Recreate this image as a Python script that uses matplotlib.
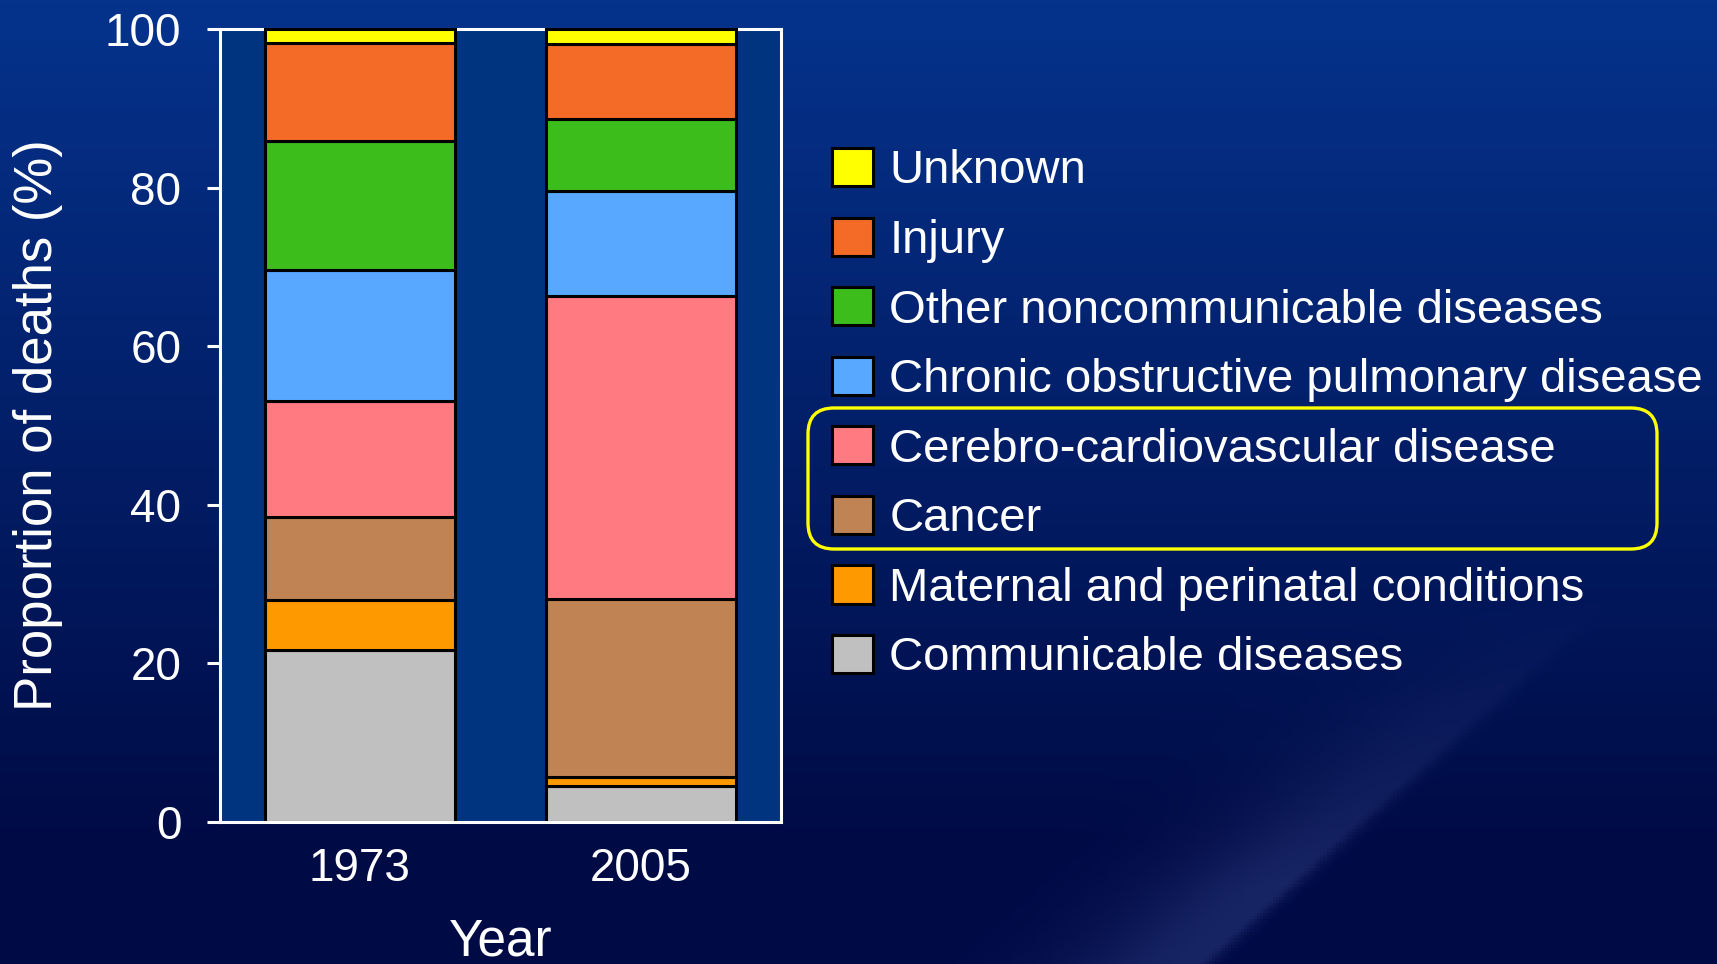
import numpy as np
import matplotlib
matplotlib.use("Agg")
import matplotlib.pyplot as plt
from matplotlib.patches import FancyBboxPatch
from matplotlib.transforms import IdentityTransform

# --- DATA ---
years = ["1973", "2005"]
causes = [
    "Communicable diseases",
    "Maternal and perinatal conditions",
    "Cancer",
    "Cerebro-cardiovascular disease",
    "Chronic obstructive pulmonary disease",
    "Other noncommunicable diseases",
    "Injury",
    "Unknown",
]
share_1973 = [21.7, 6.3, 10.4, 14.7, 16.5, 16.3, 12.3, 1.8]
share_2005 = [4.6, 1.1, 22.4, 38.2, 13.3, 9.0, 9.5, 1.9]
colors = ["#c0c0c0", "#ff9900", "#c08354", "#ff7b81",
          "#58a8ff", "#3cbd1c", "#f46b28", "#ffff00"]
yticks = [0, 20, 40, 60, 80, 100]

plt.rcParams["font.family"] = ["Liberation Sans", "DejaVu Sans"]

W, H, DPI = 1717, 964, 100
fig = plt.figure(figsize=(W / DPI, H / DPI), dpi=DPI)

# background: dark blue vertical gradient with a soft diagonal streak
bg = fig.add_axes([0, 0, 1, 1], zorder=-10)
yy, xx = np.mgrid[0:1:300j, 0:1:540j]
top = np.array([0x05, 0x33, 0x8c]) / 255
bot = np.array([0x00, 0x0b, 0x46]) / 255
t = np.clip(yy * 1.15, 0, 1)[..., None]
img = top * (1 - t) + bot * t
d = (xx - 0.70) * 1.6 + (yy - 0.995) * 1.0  # distance across the streak
streak = np.where(d < 0, np.exp(-(d / 0.12) ** 2), np.exp(-(d / 0.015) ** 2))
streak *= np.clip((yy - 0.62) / 0.3, 0, 1)
img = img + streak[..., None] * (np.array([0x22, 0x30, 0x72]) / 255 - img) * 0.7
bg.imshow(img, aspect="auto", extent=[0, 1, 0, 1], origin="upper")
bg.set_axis_off()

ax = fig.add_axes([219.5 / W, 1 - 822 / H, 561.5 / W, 793 / H])
ax.set_facecolor("#00347f")

x = np.arange(len(years))
data = np.array([share_1973, share_2005])
bottom = np.zeros(len(years))
handles = []
for i, cause in enumerate(causes):
    bars = ax.bar(x, data[:, i], 0.677, bottom=bottom, color=colors[i],
                  edgecolor="black", linewidth=2.2, label=cause,
                  zorder=3, clip_on=False)
    handles.append(bars)
    bottom += data[:, i]

ax.set_xlim(-0.5, 1.5)
ax.set_ylim(0, 100)
ax.set_yticks(yticks)
ax.set_xticks(x)
ax.set_xticklabels(years)

for s in ax.spines.values():
    s.set_color("white")
    s.set_linewidth(2.2)
ax.spines["bottom"].set_zorder(5)
ax.tick_params(axis="y", colors="white", labelsize=33, length=9.5,
               width=2.2, pad=18)
ax.tick_params(axis="x", colors="white", labelsize=33, length=0, pad=18)

ax.set_ylabel("Proportion of deaths (%)", color="white", fontsize=38)
ax.yaxis.set_label_coords(-0.279, 0.5)
ax.set_xlabel("Year", color="white", fontsize=37)
ax.xaxis.set_label_coords(0.5, -0.121)

leg = fig.legend(handles[::-1], causes[::-1], loc="upper left",
                 bbox_to_anchor=(832 / W, 1 - 148 / H), frameon=False,
                 fontsize=34, handlelength=0.87, handleheight=0.87,
                 handletextpad=0.34, labelspacing=0.51,
                 borderpad=0, borderaxespad=0)
for txt in leg.get_texts():
    txt.set_color("white")

# yellow highlight around the Cerebro-cardiovascular / Cancer entries
box = FancyBboxPatch((820, H - 537), 825, 117,
                     boxstyle="round,pad=12,rounding_size=26",
                     transform=IdentityTransform(), fill=False,
                     edgecolor="#ffff00", linewidth=2.4)
fig.patches.append(box)

plt.savefig("out.png", dpi=DPI)
